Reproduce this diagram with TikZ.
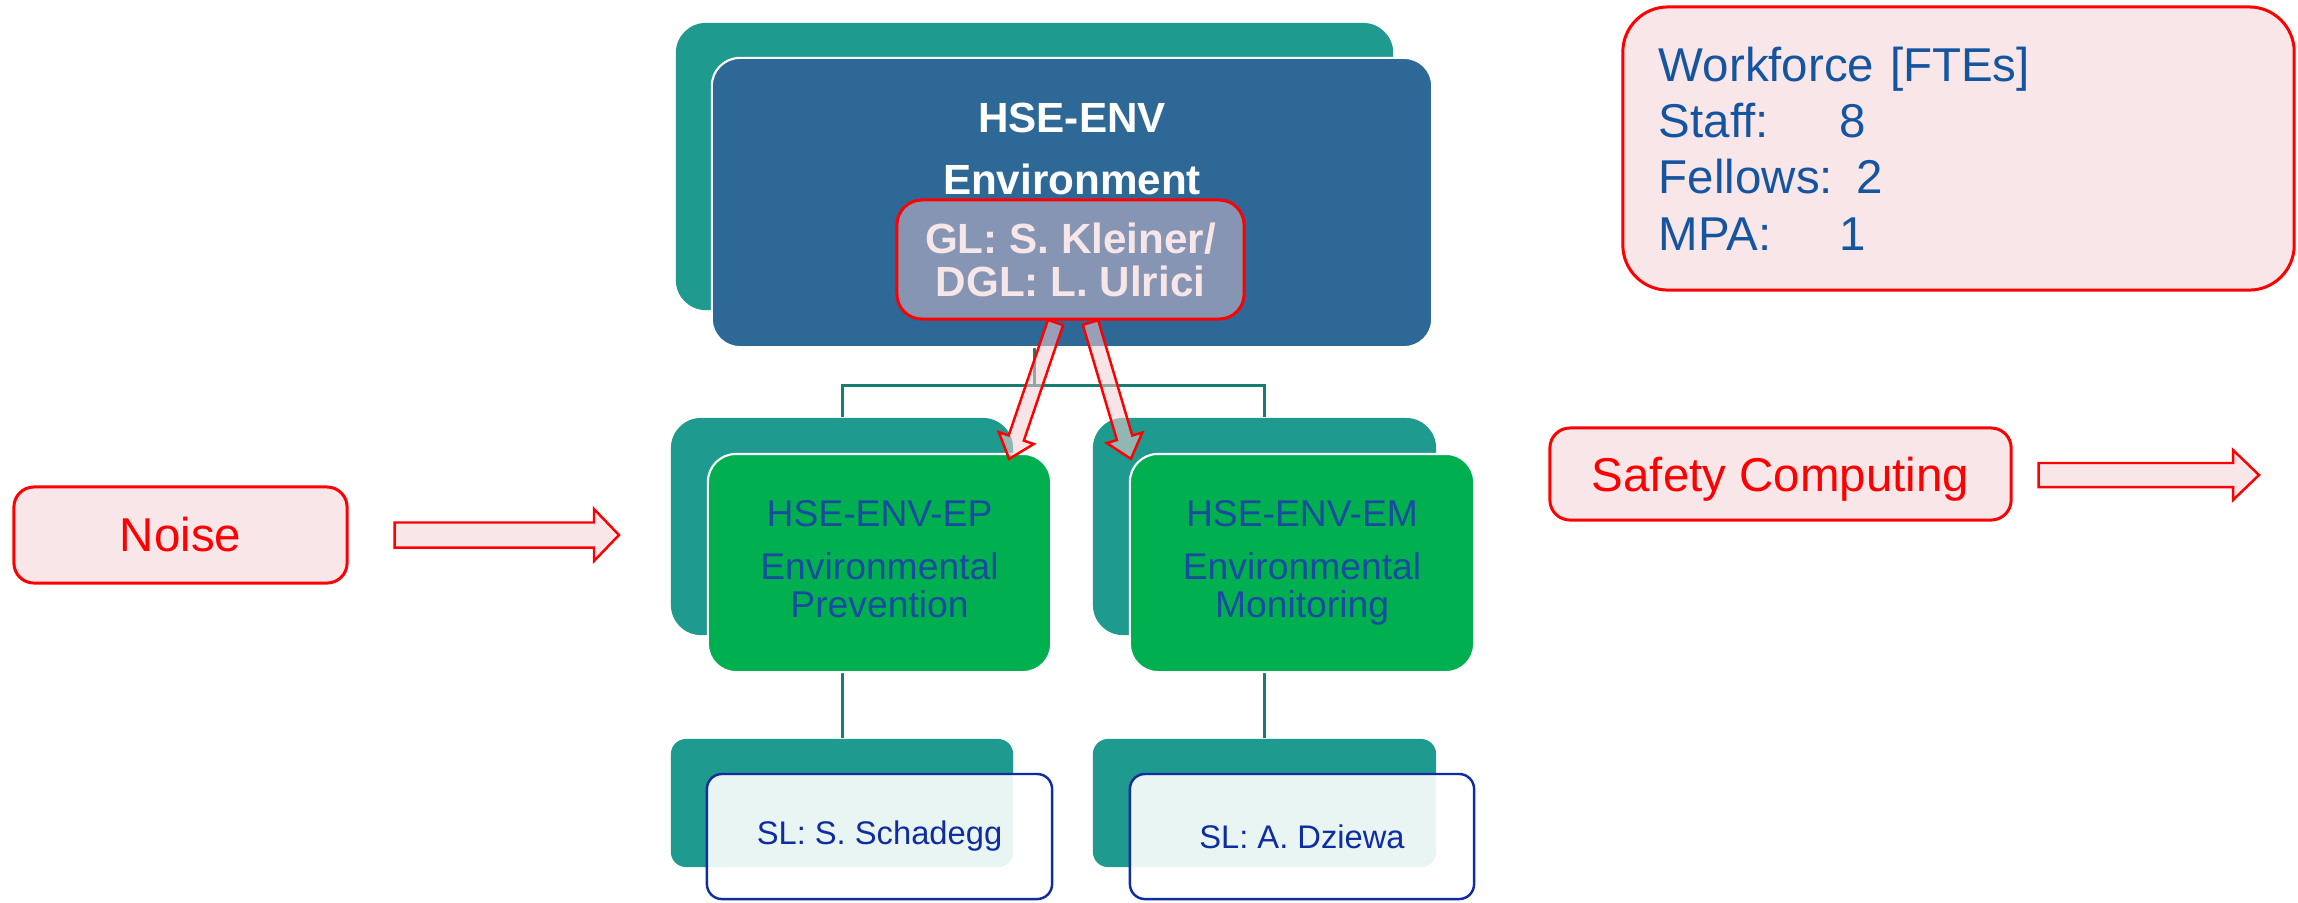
\documentclass[tikz,border=0pt]{standalone}
\usepackage{fontspec}
\setmainfont{Liberation Sans}
\usetikzlibrary{calc}
\definecolor{shadowteal}{RGB}{30,154,142}
\definecolor{hseblue}{RGB}{46,104,150}
\definecolor{glfill}{RGB}{135,149,180}
\definecolor{gltext}{RGB}{246,230,232}
\definecolor{envgreen}{RGB}{0,176,80}
\definecolor{envtext}{RGB}{25,75,160}
\definecolor{sldark}{RGB}{15,45,160}
\definecolor{wfblue}{RGB}{21,85,160}
\definecolor{pinkfill}{RGB}{248,230,232}
\definecolor{pinkdeep}{RGB}{240,205,210}
\definecolor{linegreen}{RGB}{22,125,112}

\newcommand{\fatarrow}[6][blockarr]{%
  \coordinate (fh) at ($(#3)!#6!(#2)$);
  \draw[#1] ($(#2)!#4!90:(#3)$) -- ($(fh)!#4!90:(#3)$) -- ($(fh)!#5!90:(#3)$) -- (#3)
    -- ($(fh)!#5!-90:(#3)$) -- ($(fh)!#4!-90:(#3)$) -- ($(#2)!#4!-90:(#3)$) -- cycle;
}

\begin{document}
\begin{tikzpicture}[x=0.01cm,y=-0.01cm,
    back/.style={fill=shadowteal,rounded corners=0.3cm,inner sep=0},
    front/.style={draw=white,line width=0.6pt,rounded corners=0.28cm,inner sep=0,align=center},
    redbox/.style={draw=red,line width=0.85pt,fill=pinkfill,rounded corners=0.2cm,
      text=red,inner sep=0,font=\fontsize{13.5}{16}\selectfont},
    slbox/.style={draw=sldark,line width=0.7pt,fill=white,fill opacity=0.9,text opacity=1,
      rounded corners=0.15cm,inner sep=0,text=sldark,font=\fontsize{9.3}{11}\selectfont},
    blockarr/.style={draw=red,line width=0.7pt,fill=pinkfill,line join=miter},
    glarr/.style={blockarr,fill=pinkdeep,fill opacity=0.55},
    orgline/.style={draw=linegreen,line width=0.85pt}]
  \useasboundingbox (0,0) rectangle (2298,902);

  \node[back,minimum width=7.17cm,minimum height=2.87cm] (topback) at (1034.5,166.5) {};
  \node[back,minimum width=3.42cm,minimum height=2.17cm] (epback) at (842,526.5) {};
  \node[back,minimum width=3.43cm,minimum height=2.17cm] (emback) at (1264.5,526.5) {};
  \node[back,rounded corners=0.15cm,minimum width=3.42cm,minimum height=1.28cm]
    (slepback) at (842,803) {};
  \node[back,rounded corners=0.15cm,minimum width=3.43cm,minimum height=1.28cm]
    (slemback) at (1264.5,803) {};

  \draw[orgline] (topback.south) -- ++(0,75) -| (epback.north);
  \draw[orgline] (topback.south) -- ++(0,75) -| (emback.north);
  \draw[orgline] (epback.south) -- (slepback.north);
  \draw[orgline] (emback.south) -- (slemback.north);

  \node[front,fill=hseblue,minimum width=7.2cm,minimum height=2.89cm]
    (topfront) at (1072,202.5) {};
  \node[text=white,align=center,font=\bfseries\fontsize{12}{17.6}\selectfont]
    (envtitle) at (1072,149) {HSE-ENV\\Environment};
  \node[draw=red,line width=0.85pt,fill=glfill,rounded corners=0.25cm,inner sep=0,
    text=gltext,align=center,font=\bfseries\fontsize{12}{12.2}\selectfont,
    minimum width=3.47cm,minimum height=1.19cm]
    (gl) at (1070.5,259.5) {GL: S. Kleiner/\\DGL: L. Ulrici};

  \node[front,fill=envgreen,text=envtext,font=\fontsize{10.6}{10.8}\selectfont,
    minimum width=3.43cm,minimum height=2.18cm]
    (epfront) at (879.5,563) {HSE-ENV-EP\\[4.3pt]Environmental\\Prevention\vphantom{g}};
  \node[front,fill=envgreen,text=envtext,font=\fontsize{10.6}{10.8}\selectfont,
    minimum width=3.44cm,minimum height=2.18cm]
    (emfront) at (1302,563) {HSE-ENV-EM\\[4.3pt]Environmental\\Monitoring};

  \node[slbox,minimum width=3.45cm,minimum height=1.25cm]
    (slepfront) at (879.5,836.5) {SL: S. Schadegg};
  \node[slbox,minimum width=3.44cm,minimum height=1.25cm]
    (slemfront) at (1302,836.5) {SL: A. Dziewa};

  \node[redbox,rounded corners=0.45cm,text=wfblue,font=\fontsize{13.5}{16}\selectfont,
    align=left,text width=5.99cm,inner xsep=0.36cm,minimum height=2.83cm]
    (fte) at (1958.5,148.5)
    {Workforce [FTEs]\\\makebox[1.81cm][l]{Staff:}8\\Fellows: 2\\\makebox[1.81cm][l]{MPA:}1};

  \node[redbox,minimum width=3.33cm,minimum height=0.96cm] (noise) at (180.5,535) {Noise};
  \node[redbox,text depth=0pt,minimum width=4.61cm,minimum height=0.92cm]
    (safety) at (1780.5,474) {Safety Computing};

  \coordinate (noisestart) at ($(noise.east)+(46,0)$);
  \coordinate (noisetip) at (619,535);
  \fatarrow{noisestart}{noisetip}{0.125cm}{0.26cm}{0.25cm}
  \coordinate (safestart) at ($(safety.east)+(26,1)$);
  \coordinate (safetip) at (2259,475);
  \fatarrow{safestart}{safetip}{0.12cm}{0.25cm}{0.26cm}

  \coordinate (glstartep) at ($(gl.south)+(-15,2)$);
  \coordinate (gltipep) at ($(epfront.north east)+(-43,6)$);
  \fatarrow[glarr]{glstartep}{gltipep}{0.08cm}{0.185cm}{0.22cm}
  \coordinate (glstartem) at ($(gl.south)+(20,2)$);
  \coordinate (gltipem) at ($(emfront.north west)+(2,6)$);
  \fatarrow[glarr]{glstartem}{gltipem}{0.08cm}{0.185cm}{0.22cm}
\end{tikzpicture}
\end{document}
